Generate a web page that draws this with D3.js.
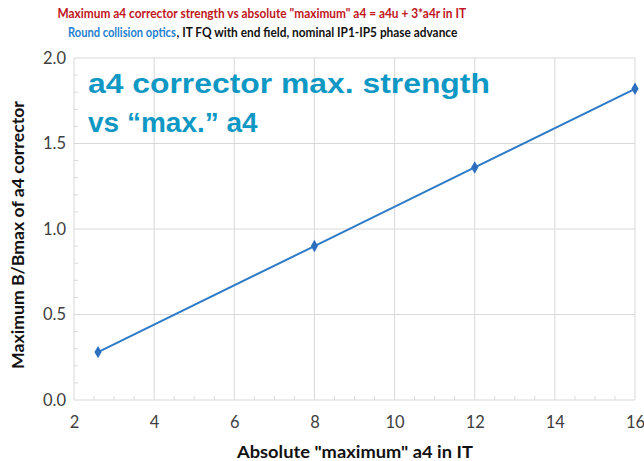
<!DOCTYPE html>
<html><head><meta charset="utf-8">
<script src="https://cdn.jsdelivr.net/npm/d3@7"></script>
<style>body{margin:0;background:#fff}svg{display:block}</style>
</head><body><svg id="c" width="644" height="461"></svg>
<script>
const xValues = [2.6, 8, 12, 16];
const yValues = [0.28, 0.9, 1.36, 1.82];
const xTicks = [2, 4, 6, 8, 10, 12, 14, 16];
const yTicks = [0.0, 0.5, 1.0, 1.5, 2.0];
const title1 = 'Maximum a4 corrector strength vs absolute "maximum" a4 = a4u + 3*a4r in IT';
const title2a = 'Round collision optics';
const title2b = ', IT FQ with end field, nominal IP1-IP5 phase advance';
const overlay = ['a4 corrector max. strength', 'vs \u201cmax.\u201d a4'];
const xTitle = 'Absolute "maximum" a4 in IT';
const yTitle = 'Maximum B/Bmax of a4 corrector';

const svg = d3.select('#c');
const m = {l:74, r:635, t:58, b:400};
const x = d3.scaleLinear().domain([2,16]).range([m.l, m.r]);
const y = d3.scaleLinear().domain([0,2]).range([m.b, m.t]);
const grid = '#d9d9d9';
const font = 'Lato, "Open Sans", sans-serif';

function fitText(sel, x0, y0, target, anchor) {
  const w = sel.node().getComputedTextLength();
  const s = target / w;
  const dx = anchor === 'middle' ? x0 - target/2 : x0;
  sel.attr('text-anchor', 'start').attr('transform', `translate(${dx},${y0}) scale(${s},1)`);
}

svg.append('g').selectAll('line.v').data(xTicks).join('line')
  .attr('x1', d=>x(d)).attr('x2', d=>x(d)).attr('y1', m.t).attr('y2', m.b)
  .attr('stroke', grid).attr('stroke-width', 1);
svg.append('g').selectAll('line.h').data(yTicks).join('line')
  .attr('x1', m.l).attr('x2', m.r).attr('y1', d=>y(d)).attr('y2', d=>y(d))
  .attr('stroke', grid).attr('stroke-width', 1);
const xMinor = d3.range(2, 16.01, 0.5).filter(v => Math.abs(v % 2) > 1e-6);
svg.append('g').selectAll('line').data(xMinor).join('line')
  .attr('x1', d=>x(d)).attr('x2', d=>x(d)).attr('y1', m.b).attr('y2', m.b-4)
  .attr('stroke', grid);
const yMinor = d3.range(0, 2.001, 0.1).filter(v => Math.abs((v*10) % 5) > 1e-6);
svg.append('g').selectAll('line').data(yMinor).join('line')
  .attr('x1', m.l).attr('x2', m.l+4).attr('y1', d=>y(d)).attr('y2', d=>y(d))
  .attr('stroke', grid);

const xAxis = d3.axisBottom(x).tickValues(xTicks).tickSize(0).tickPadding(16).tickFormat(d3.format('d'));
const gx = svg.append('g').attr('transform', `translate(0,${m.b})`).call(xAxis);
gx.select('.domain').remove();
gx.selectAll('text').attr('font-family', font).attr('font-size', 16.5).attr('fill', '#404040');
const yAxis = d3.axisLeft(y).tickValues(yTicks).tickSize(0).tickPadding(8).tickFormat(d3.format('.1f'));
const gy = svg.append('g').attr('transform', `translate(${m.l},0)`).call(yAxis);
gy.select('.domain').remove();
gy.selectAll('text').attr('font-family', font).attr('font-size', 16.5).attr('fill', '#404040');

const o1 = svg.append('text').text(overlay[0])
  .attr('font-family', 'Liberation Sans, Arial, sans-serif').attr('font-weight', 'bold')
  .attr('font-size', 28).attr('fill', '#0f98c4');
fitText(o1, 88, 93, 402, 'start');
svg.append('text').attr('x', 88).attr('y', 132).text(overlay[1])
  .attr('font-family', 'Liberation Sans, Arial, sans-serif').attr('font-weight', 'bold')
  .attr('font-size', 28).attr('fill', '#0f98c4');

const pts = xValues.map((v,i)=>[v, yValues[i]]);
svg.append('path').datum(pts)
  .attr('d', d3.line().x(d=>x(d[0])).y(d=>y(d[1])))
  .attr('fill', 'none').attr('stroke', '#2c7bc8').attr('stroke-width', 2);
svg.append('g').selectAll('path').data(pts).join('path')
  .attr('transform', d=>`translate(${x(d[0])},${y(d[1])})`)
  .attr('d', d3.symbol(d3.symbolDiamond, 45)).attr('fill', '#2c6fbf');

const t1 = svg.append('text')
  .attr('font-family', font).attr('font-weight', 'bold').attr('font-size', 14)
  .attr('fill', '#c0161c').text(title1);
fitText(t1, 262, 18, 409, 'middle');
const t2a = svg.append('text')
  .attr('font-family', font).attr('font-weight', 'bold').attr('font-size', 14)
  .attr('fill', '#1f7fd0').text(title2a);
fitText(t2a, 68, 37, 108, 'start');
const t2b = svg.append('text')
  .attr('font-family', font).attr('font-weight', 'bold').attr('font-size', 14)
  .attr('fill', '#111').text(title2b);
fitText(t2b, 176.5, 37, 281, 'start');

const xt = svg.append('text')
  .attr('font-family', font).attr('font-weight', 'bold').attr('font-size', 17.5)
  .attr('fill', '#111').text(xTitle);
fitText(xt, 355, 458, 236, 'middle');
const yt = svg.append('text')
  .attr('font-family', font).attr('font-weight', 'bold').attr('font-size', 17.5)
  .attr('fill', '#111').text(yTitle);
const yw = yt.node().getComputedTextLength();
yt.attr('transform', `translate(24,${235 + 134}) rotate(-90) scale(${268 / yw},1)`);
</script></body></html>
